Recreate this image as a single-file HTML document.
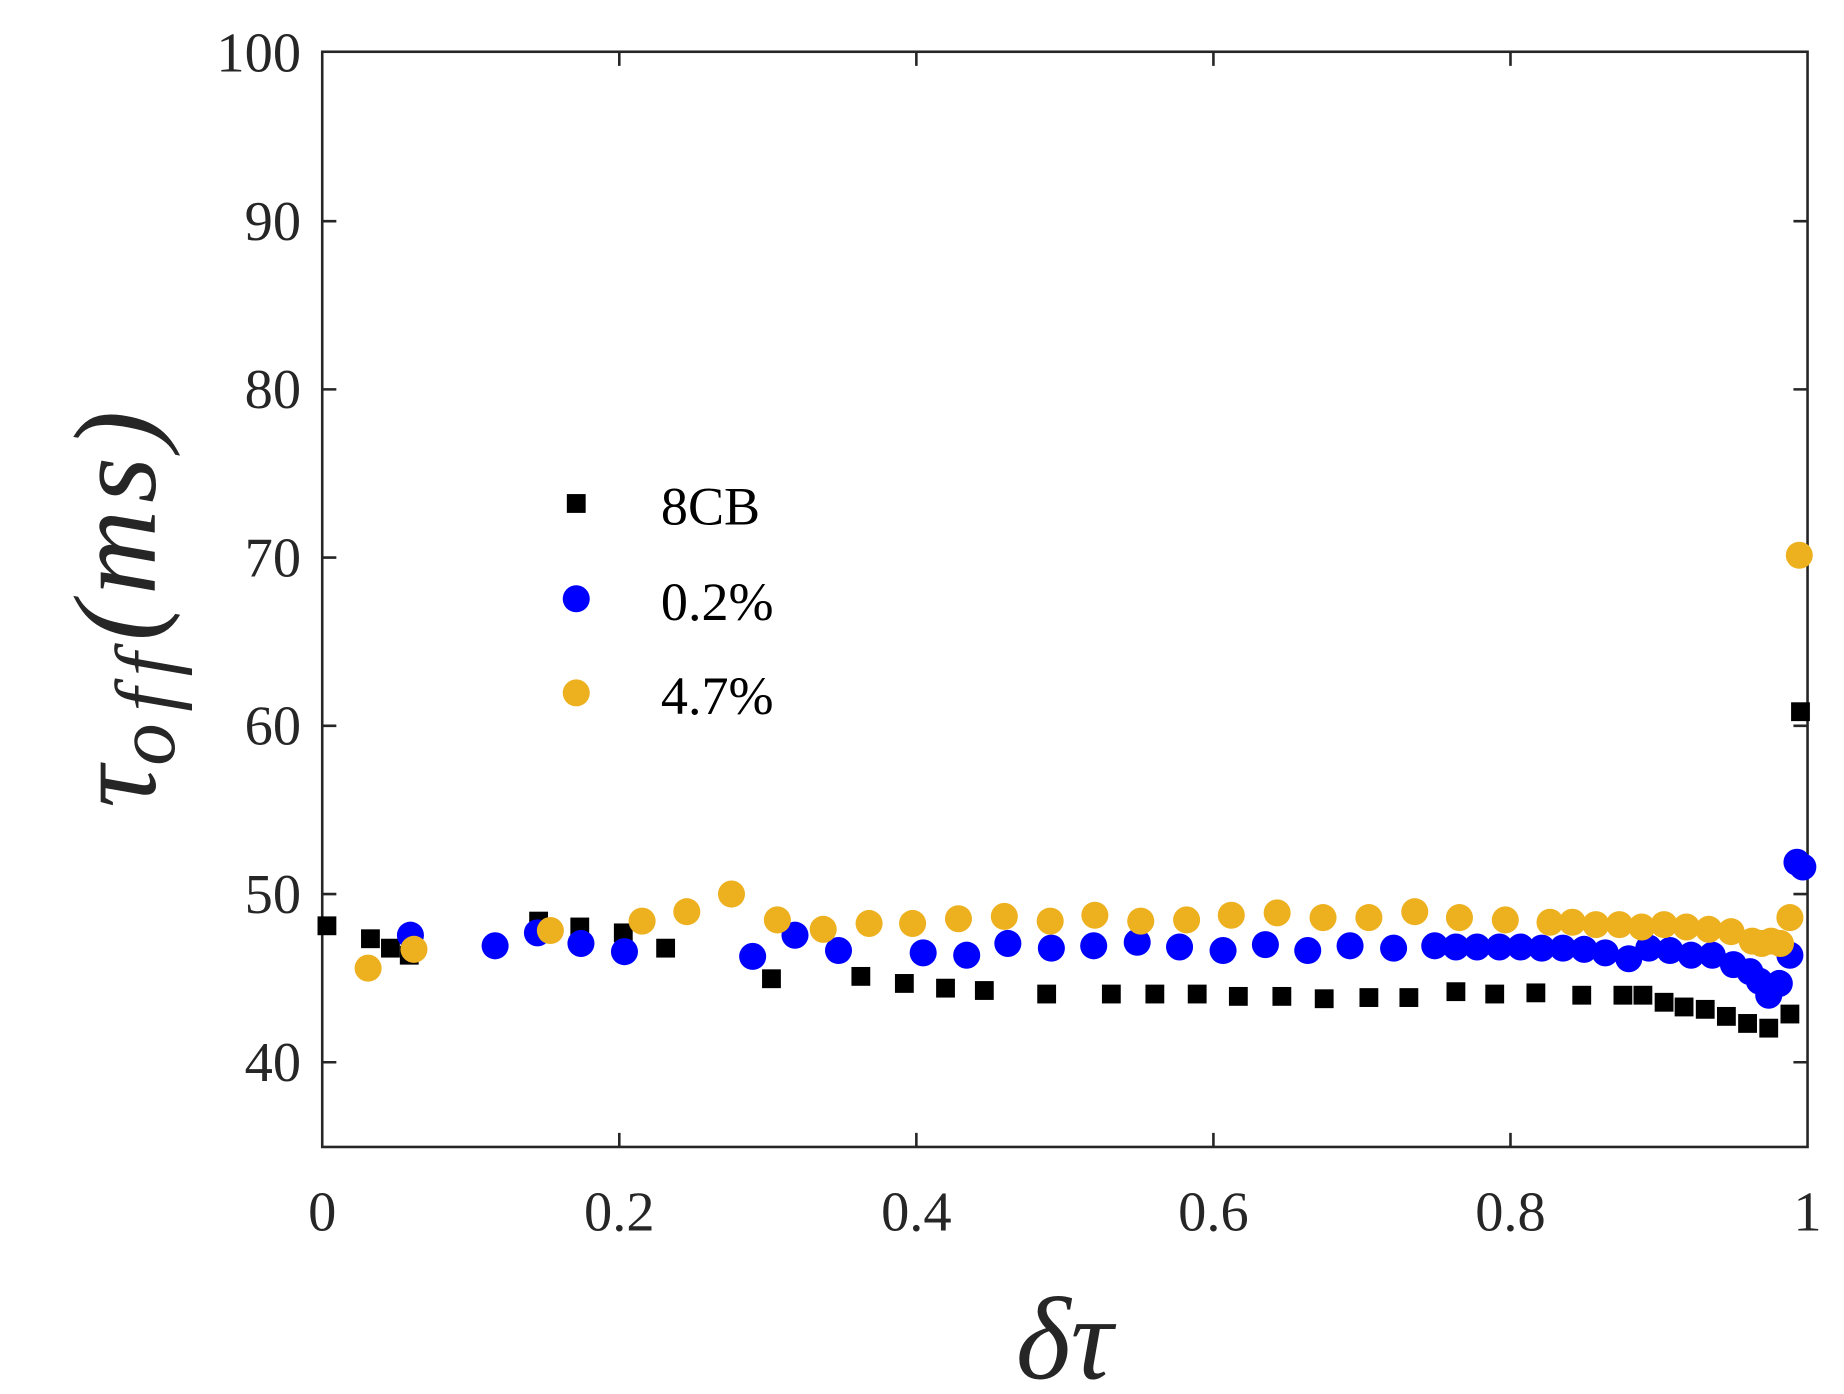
<!DOCTYPE html>
<html><head><style>html,body{margin:0;padding:0;background:#fff}svg{display:block}</style></head><body>
<svg width="1844" height="1394" viewBox="0 0 1568 1185" preserveAspectRatio="none" xmlns="http://www.w3.org/2000/svg">
<rect width="1568" height="1185" fill="#fff"/>
<g stroke="#262626" stroke-width="2.2" fill="none">
<rect x="274" y="44" width="1263" height="931"/>
<path d="M274,903h12M274,760h12M274,617h12M274,474h12M274,331h12M274,188h12M1537,903h-12M1537,760h-12M1537,617h-12M1537,474h-12M1537,331h-12M1537,188h-12"/>
<path d="M526.6,975v-12M779.2,975v-12M1031.8,975v-12M1284.4,975v-12M526.6,44v12M779.2,44v12M1031.8,44v12M1284.4,44v12"/>
</g>
<g font-family="Liberation Serif, serif" font-size="48" fill="#262626" text-anchor="end">
<text x="256" y="61">100</text><text x="256" y="204">90</text><text x="256" y="347">80</text><text x="256" y="490">70</text><text x="256" y="633">60</text><text x="256" y="776">50</text><text x="256" y="919">40</text>
</g>
<g font-family="Liberation Serif, serif" font-size="48" fill="#262626" text-anchor="middle">
<text x="274" y="1046">0</text><text x="526.6" y="1046">0.2</text><text x="779.2" y="1046">0.4</text><text x="1031.8" y="1046">0.6</text><text x="1284.4" y="1046">0.8</text><text x="1537" y="1046">1</text>
</g>
<text x="905" y="1172" font-family="Liberation Serif, serif" font-style="italic" font-size="100" fill="#262626" text-anchor="middle">δτ</text>
<text transform="translate(132,515) rotate(-90)" font-family="Liberation Serif, serif" font-style="italic" font-size="100" fill="#262626" text-anchor="middle">τ<tspan font-size="72" dy="16" letter-spacing="10">off</tspan><tspan dy="-16" letter-spacing="6">(ms)</tspan></text>
<g fill="#000">
<rect x="270" y="779" width="16" height="16"/><rect x="307" y="790" width="16" height="16"/><rect x="324" y="798" width="16" height="16"/><rect x="340" y="804" width="16" height="16"/><rect x="450" y="775" width="16" height="16"/><rect x="485" y="780" width="16" height="16"/><rect x="522" y="785" width="16" height="16"/><rect x="558" y="798" width="16" height="16"/><rect x="648" y="824" width="16" height="16"/><rect x="724" y="822" width="16" height="16"/><rect x="761" y="828" width="16" height="16"/><rect x="796" y="832" width="16" height="16"/><rect x="829" y="834" width="16" height="16"/><rect x="882" y="837" width="16" height="16"/><rect x="937" y="837" width="16" height="16"/><rect x="974" y="837" width="16" height="16"/><rect x="1010" y="837" width="16" height="16"/><rect x="1045" y="839" width="16" height="16"/><rect x="1082" y="839" width="16" height="16"/><rect x="1118" y="841" width="16" height="16"/><rect x="1156" y="840" width="16" height="16"/><rect x="1190" y="840" width="16" height="16"/><rect x="1230" y="835" width="16" height="16"/><rect x="1263" y="837" width="16" height="16"/><rect x="1298" y="836" width="16" height="16"/><rect x="1337" y="838" width="16" height="16"/><rect x="1372" y="838" width="16" height="16"/><rect x="1389" y="838" width="16" height="16"/><rect x="1407" y="844" width="16" height="16"/><rect x="1424" y="848" width="16" height="16"/><rect x="1442" y="850" width="16" height="16"/><rect x="1460" y="856" width="16" height="16"/><rect x="1478" y="862" width="16" height="16"/><rect x="1496" y="866" width="16" height="16"/><rect x="1514" y="854" width="16" height="16"/><rect x="1523" y="597" width="16" height="16"/>
<rect x="482" y="420" width="16" height="16"/>
</g>
<g fill="#0000ff">
<circle cx="349" cy="795" r="11.5"/><circle cx="421" cy="804" r="11.5"/><circle cx="457" cy="793" r="11.5"/><circle cx="494" cy="802" r="11.5"/><circle cx="531" cy="809" r="11.5"/><circle cx="640" cy="813" r="11.5"/><circle cx="676" cy="795" r="11.5"/><circle cx="713" cy="808" r="11.5"/><circle cx="785" cy="810" r="11.5"/><circle cx="822" cy="812" r="11.5"/><circle cx="857" cy="802" r="11.5"/><circle cx="894" cy="806" r="11.5"/><circle cx="930" cy="804" r="11.5"/><circle cx="967" cy="801" r="11.5"/><circle cx="1003" cy="805" r="11.5"/><circle cx="1040" cy="808" r="11.5"/><circle cx="1076" cy="803" r="11.5"/><circle cx="1112" cy="808" r="11.5"/><circle cx="1148" cy="804" r="11.5"/><circle cx="1185" cy="806" r="11.5"/><circle cx="1220" cy="804" r="11.5"/><circle cx="1238" cy="805" r="11.5"/><circle cx="1256" cy="805" r="11.5"/><circle cx="1275" cy="805" r="11.5"/><circle cx="1293" cy="805" r="11.5"/><circle cx="1311" cy="806" r="11.5"/><circle cx="1329" cy="806" r="11.5"/><circle cx="1347" cy="807" r="11.5"/><circle cx="1365" cy="810" r="11.5"/><circle cx="1385" cy="815" r="11.5"/><circle cx="1402" cy="806" r="11.5"/><circle cx="1420" cy="808" r="11.5"/><circle cx="1438" cy="812" r="11.5"/><circle cx="1456" cy="812" r="11.5"/><circle cx="1474" cy="820" r="11.5"/><circle cx="1488" cy="826" r="11.5"/><circle cx="1496" cy="834" r="11.5"/><circle cx="1504" cy="846" r="11.5"/><circle cx="1513" cy="836" r="11.5"/><circle cx="1522" cy="812" r="11.5"/><circle cx="1528" cy="733" r="11.5"/><circle cx="1533" cy="737" r="11.5"/>
<circle cx="490" cy="509" r="11.5"/>
</g>
<g fill="#edb120">
<circle cx="313" cy="823" r="11.5"/><circle cx="352" cy="807" r="11.5"/><circle cx="468" cy="791" r="11.5"/><circle cx="546" cy="783" r="11.5"/><circle cx="584" cy="775" r="11.5"/><circle cx="622" cy="760" r="11.5"/><circle cx="661" cy="782" r="11.5"/><circle cx="700" cy="790" r="11.5"/><circle cx="739" cy="785" r="11.5"/><circle cx="776" cy="785" r="11.5"/><circle cx="815" cy="781" r="11.5"/><circle cx="854" cy="779" r="11.5"/><circle cx="893" cy="783" r="11.5"/><circle cx="931" cy="778" r="11.5"/><circle cx="970" cy="783" r="11.5"/><circle cx="1009" cy="782" r="11.5"/><circle cx="1047" cy="778" r="11.5"/><circle cx="1086" cy="776" r="11.5"/><circle cx="1125" cy="780" r="11.5"/><circle cx="1164" cy="780" r="11.5"/><circle cx="1203" cy="775" r="11.5"/><circle cx="1241" cy="780" r="11.5"/><circle cx="1280" cy="782" r="11.5"/><circle cx="1318" cy="784" r="11.5"/><circle cx="1337" cy="784" r="11.5"/><circle cx="1357" cy="786" r="11.5"/><circle cx="1377" cy="786" r="11.5"/><circle cx="1396" cy="788" r="11.5"/><circle cx="1415" cy="786" r="11.5"/><circle cx="1434" cy="788" r="11.5"/><circle cx="1453" cy="790" r="11.5"/><circle cx="1472" cy="792" r="11.5"/><circle cx="1490" cy="800" r="11.5"/><circle cx="1498" cy="802" r="11.5"/><circle cx="1506" cy="800" r="11.5"/><circle cx="1514" cy="802" r="11.5"/><circle cx="1522" cy="780" r="11.5"/><circle cx="1530" cy="472" r="11.5"/>
<circle cx="490" cy="589" r="11.5"/>
</g>
<g font-family="Liberation Serif, serif" font-size="46" fill="#000">
<text x="562" y="446">8CB</text><text x="562" y="527">0.2%</text><text x="562" y="607">4.7%</text>
</g>
</svg>
</body></html>
